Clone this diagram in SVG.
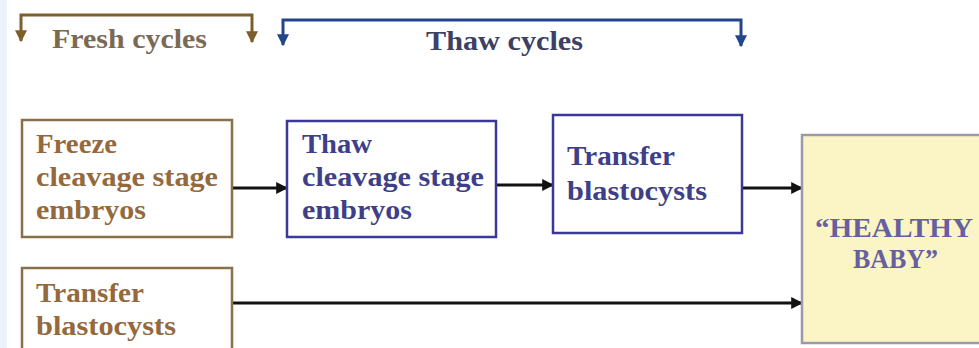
<svg xmlns="http://www.w3.org/2000/svg" width="979" height="348" viewBox="0 0 979 348">
  <defs>
    <marker id="arrowBlack" viewBox="0 0 10 10" refX="9" refY="5" markerWidth="4" markerHeight="4" markerUnits="strokeWidth" orient="auto">
      <path d="M0,0 L10,5 L0,10 Z" fill="#111"/>
    </marker>
    <marker id="arrowBrown" viewBox="0 0 10 10" refX="9" refY="5" markerWidth="4" markerHeight="4" markerUnits="strokeWidth" orient="auto">
      <path d="M0,0 L10,5 L0,10 Z" fill="#7d5f2c"/>
    </marker>
    <marker id="arrowBlue" viewBox="0 0 10 10" refX="9" refY="5" markerWidth="4" markerHeight="4" markerUnits="strokeWidth" orient="auto">
      <path d="M0,0 L10,5 L0,10 Z" fill="#25458a"/>
    </marker>
  </defs>
  <style>
    text { font-family: "Liberation Serif", "Times New Roman", serif; font-weight: bold; font-size: 27px; }
    .fresh-txt { fill: #94693d; }
    .thaw-txt { fill: #3e3f88; }
    .box-fresh { fill: #ffffff; stroke: #8a7048; stroke-width: 2.5; }
    .box-thaw { fill: #ffffff; stroke: #3a3a96; stroke-width: 2.5; }
    .box-goal { fill: #fbf5c6; stroke: #9c98ac; stroke-width: 2.5; }
    .goal-txt { fill: #6660a0; }
    .conn { fill: none; stroke: #111; stroke-width: 3; marker-end: url(#arrowBlack); }
    .brk-fresh { fill: none; stroke: #7d5f2c; stroke-width: 3; }
    .brk-thaw { fill: none; stroke: #25458a; stroke-width: 3; }
  </style>

  <!-- page background with pale edge strip -->
  <rect x="0" y="0" width="979" height="348" fill="#ffffff"/>
  <rect x="0" y="0" width="7" height="348" fill="#edf1fa"/>

  <!-- cycle brackets: a bar with a downward arrow at each end -->
  <g id="fresh-cycles">
    <path class="brk-fresh" d="M136,15 H21 V41" marker-end="url(#arrowBrown)"/>
    <path class="brk-fresh" d="M136,15 H252 V42" marker-end="url(#arrowBrown)"/>
    <text x="52" y="48" style="fill:#7a6a55" textLength="155" lengthAdjust="spacingAndGlyphs">Fresh cycles</text>
  </g>
  <g id="thaw-cycles">
    <path class="brk-thaw" d="M512,20 H283 V45" marker-end="url(#arrowBlue)"/>
    <path class="brk-thaw" d="M512,20 H741 V46" marker-end="url(#arrowBlue)"/>
    <text x="426" y="50" style="fill:#3c4064" textLength="157" lengthAdjust="spacingAndGlyphs">Thaw cycles</text>
  </g>

  <!-- connectors -->
  <g id="connectors">
    <path class="conn" d="M232,188 H287"/>
    <path class="conn" d="M496,185 H553"/>
    <path class="conn" d="M742,188 H802"/>
    <path class="conn" d="M232,303 H802"/>
  </g>

  <!-- nodes -->
  <g id="freeze-cleavage">
    <rect class="box-fresh" x="22" y="120" width="210" height="117"/>
    <text class="fresh-txt" x="36" y="153" textLength="81" lengthAdjust="spacingAndGlyphs">Freeze</text>
    <text class="fresh-txt" x="36" y="186" textLength="182" lengthAdjust="spacingAndGlyphs">cleavage stage</text>
    <text class="fresh-txt" x="36" y="219" textLength="110" lengthAdjust="spacingAndGlyphs">embryos</text>
  </g>

  <g id="thaw-cleavage">
    <rect class="box-thaw" x="287" y="121" width="209" height="116"/>
    <text class="thaw-txt" x="302" y="153" textLength="70" lengthAdjust="spacingAndGlyphs">Thaw</text>
    <text class="thaw-txt" x="302" y="186" textLength="182" lengthAdjust="spacingAndGlyphs">cleavage stage</text>
    <text class="thaw-txt" x="302" y="219" textLength="110" lengthAdjust="spacingAndGlyphs">embryos</text>
  </g>

  <g id="transfer-thawed">
    <rect class="box-thaw" x="553" y="115" width="189" height="118"/>
    <text class="thaw-txt" x="567" y="165" textLength="108" lengthAdjust="spacingAndGlyphs">Transfer</text>
    <text class="thaw-txt" x="567" y="200" textLength="140" lengthAdjust="spacingAndGlyphs">blastocysts</text>
  </g>

  <g id="healthy-baby">
    <rect class="box-goal" x="802" y="135" width="190" height="208"/>
    <text class="goal-txt" x="815" y="237" textLength="158" lengthAdjust="spacingAndGlyphs">“HEALTHY</text>
    <text class="goal-txt" x="853" y="268" textLength="85" lengthAdjust="spacingAndGlyphs">BABY”</text>
  </g>

  <g id="transfer-fresh">
    <rect class="box-fresh" x="22" y="268" width="210" height="95"/>
    <text class="fresh-txt" x="36" y="302" textLength="108" lengthAdjust="spacingAndGlyphs">Transfer</text>
    <text class="fresh-txt" x="36" y="335" textLength="140" lengthAdjust="spacingAndGlyphs">blastocysts</text>
  </g>
</svg>
